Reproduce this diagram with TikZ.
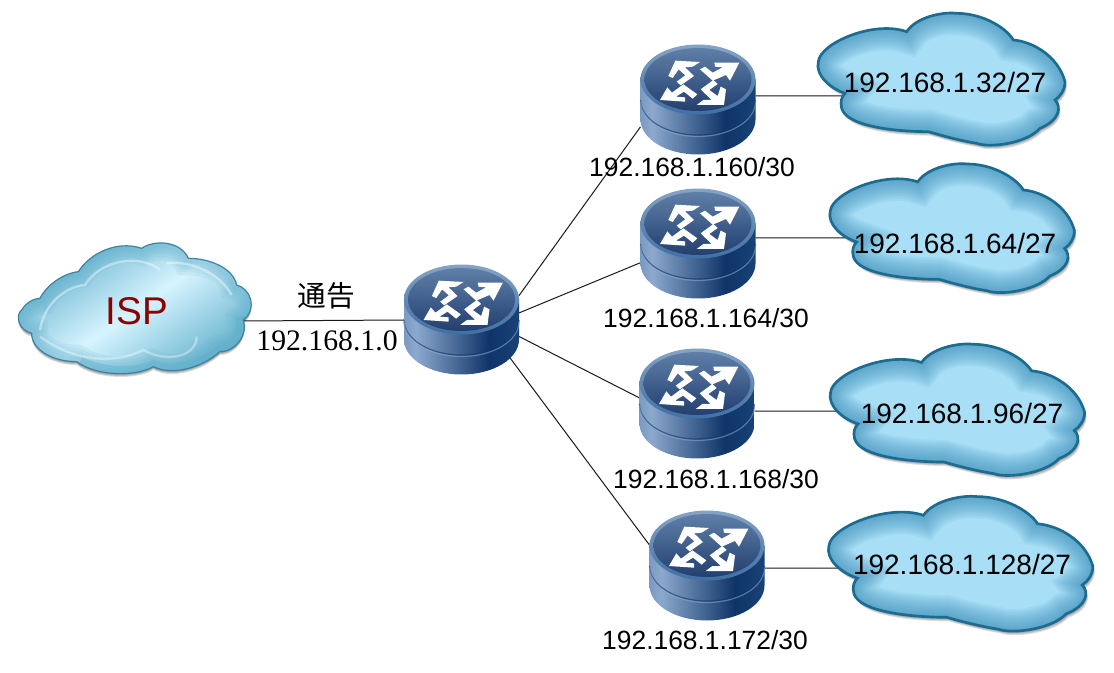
\documentclass[tikz,border=0pt]{standalone}
\usepackage{fontspec}
\setmainfont{Liberation Sans}
\newfontfamily\serifnum{Liberation Serif}
\newfontfamily\cjk{Noto Sans CJK SC}
\usetikzlibrary{calc}
\definecolor{rgbA}{HTML}{3F6898}
\definecolor{rgbB}{HTML}{8CA9CD}
\definecolor{rgbC}{HTML}{0F3468}
\definecolor{rgbD}{HTML}{1E4A80}
\definecolor{rgbE}{HTML}{4374AC}
\definecolor{discT}{HTML}{5F7FA8}
\definecolor{discM}{HTML}{2F5080}
\definecolor{discB}{HTML}{223F6E}
\definecolor{rimT}{HTML}{86A3C4}
\definecolor{rimB}{HTML}{3F6FA5}
\definecolor{linec}{HTML}{1A1A1A}
\definecolor{cloudfill}{HTML}{A8DEF6}
\definecolor{cloudglow}{HTML}{2F86B2}
\definecolor{cloudline}{HTML}{1C6C92}
\definecolor{ispred}{HTML}{8B0000}
\definecolor{ispedge}{HTML}{62B0CC}
\definecolor{ispmid}{HTML}{D6F4FE}
\pgfdeclarehorizontalshading{routerside}{100bp}{
 color(0bp)=(rgbA); color(8bp)=(rgbA); color(30bp)=(rgbB); color(62bp)=(rgbC); color(82bp)=(rgbD); color(100bp)=(rgbE)}
\tikzset{
 x=0.75pt,y=-0.75pt,
 link/.style={draw=linec,line width=0.75pt},
 hub/.style={rectangle,minimum width=86.25pt,minimum height=82.5pt,inner sep=0pt,outer sep=0pt},
 lab/.style={font=\fontsize{19.8pt}{22pt}\selectfont,text=black,inner sep=0pt},
 netlab/.style={font=\fontsize{21pt}{23pt}\selectfont,text=black,inner sep=0pt},
 seriflab/.style={font=\serifnum\fontsize{22.3pt}{24pt}\selectfont,text=black,inner sep=0pt},
}
\newcommand{\cloudshape}{
 (105,280) .. controls (60,265) and (15,225) .. (25,185)
 .. controls (30,130) and (190,60) .. (290,95)
 .. controls (320,50) and (400,35) .. (440,40)
 .. controls (520,40) and (590,85) .. (610,120)
 .. controls (670,125) and (745,170) .. (765,245)
 .. controls (765,270) and (750,290) .. (735,300)
 .. controls (755,320) and (750,360) .. (690,385)
 .. controls (650,430) and (540,445) .. (500,430)
 .. controls (440,420) and (390,405) .. (355,395)
 .. controls (260,395) and (110,380) .. (95,325)
 .. controls (90,305) and (95,290) .. (105,280) -- cycle}
\newcommand{\ispshape}{
 (65,310) .. controls (25,300) and (15,255) .. (35,240)
 .. controls (50,215) and (75,205) .. (90,205)
 .. controls (110,165) and (160,130) .. (205,125)
 .. controls (240,70) and (320,30) .. (395,55)
 .. controls (430,30) and (510,30) .. (535,85)
 .. controls (600,85) and (670,115) .. (680,165)
 .. controls (720,175) and (745,235) .. (700,270)
 .. controls (715,310) and (680,365) .. (630,365)
 .. controls (580,410) and (490,440) .. (430,410)
 .. controls (380,440) and (260,440) .. (200,395)
 .. controls (130,395) and (65,360) .. (65,310) -- cycle}
\newcommand{\drawcloud}[4]{% left, top, xscale, yscale (zoom units)
 \begin{scope}[shift={(#1,#2)},x=#3*0.25pt,y=-#4*0.25pt]
  \foreach \d in {6,9,12}
   \fill[black,opacity=.13] [shift={(\d/2,\d)}] \cloudshape;
  \fill[cloudfill] \cloudshape;
  \begin{scope}
   \clip \cloudshape;
   \foreach \w in {44,40,...,4}
    \draw[cloudglow,opacity=.075,line width=\w*0.75pt] \cloudshape;
  \end{scope}
  \draw[cloudline,line width=2pt] \cloudshape;
 \end{scope}}
\newcommand{\drawrouter}[2]{%
 \begin{scope}[shift={(#1,#2)}]
  \path[shading=routerside] (-57.5,-20.5) -- (-57.5,19.5) arc[start angle=180,end angle=0,x radius=57.5,y radius=35] -- (57.5,-20.5) -- cycle;
  \draw[draw=rgbC,line width=0.9pt,opacity=.6] (-57.5,0) arc[start angle=180,end angle=0,x radius=57.5,y radius=35];
  \draw[draw=rgbB,line width=0.9pt,opacity=.55] (-57.5,1.5) arc[start angle=180,end angle=0,x radius=57.5,y radius=35];
  \shade[top color=rimT,bottom color=rimB] (0,-20.5) ellipse[x radius=57.5,y radius=35];
  \shade[top color=discT,middle color=discM,bottom color=discB] (0,-20.5) ellipse[x radius=53.5,y radius=31.5];
  \begin{scope}[shift={(-48,-50)},x=.25pt,y=-.25pt]
   \fill[white] (76,32)--(150,36)--(128,50)--(105,52)--(132,78)--(92,106)--(80,95)--(106,76)--(86,58)--(68,84)--(55,78)--cycle;
   \fill[white] (268,38)--(240,92)--(228,75)--(188,92)--(150,58)--(165,50)--(188,68)--(218,52)--(195,50)--(193,38)--cycle;
   \fill[white] (30,150)--(52,112)--(66,128)--(100,103)--(142,133)--(128,146)--(102,125)--(78,140)--(105,142)--(105,155)--cycle;
   \fill[white] (222,165)--(140,165)--(160,150)--(185,150)--(152,118)--(190,90)--(203,102)--(178,120)--(203,138)--(212,110)--(228,118)--cycle;
  \end{scope}
 \end{scope}}
\begin{document}
\begin{tikzpicture}
\useasboundingbox (0,0) rectangle (1114,673);
\fill[white] (0,0) rectangle (1114,673);
% anchors
\node[hub] (r0) at (461.5,320) {};
\node[hub] (r1) at (698,100) {};
\node[hub] (r2) at (698,244) {};
\node[hub] (r3) at (697,404) {};
\node[hub] (r4) at (707,566) {};
\coordinate (isp) at (243,321);
\coordinate (r0d) at (490,331);
\coordinate (c1) at (846,96);
\coordinate (c2) at (845,238);
\coordinate (c3) at (845,411);
\coordinate (c4) at (845,568);
% connectors
\draw[link] (isp) -- (r0.west);
\draw[link] (r0.23.7) -- (r1.-155);
\draw[link] (r0.7) -- (r2.-162.5);
\draw[link] (r0.-16) -- (r3.174);
\draw[link] (r0d) -- (r4.160.7);
\draw[link] (r1.4) -- (c1);
\draw[link] (r2.6) -- (c2);
\draw[link] (r3.-7) -- (c3);
\draw[link] (r4.-2) -- (c4);
% ISP cloud
\begin{scope}[shift={(10,230)},x=.25pt,y=-.25pt]
 \foreach \d in {4,7,10}
  \fill[black,opacity=.14] [shift={(0,\d)}] \ispshape;
 \shade[left color=ispedge,right color=ispedge,middle color=ispmid,shading angle=35] \ispshape;
 \begin{scope}
  \clip \ispshape;
  \foreach \w in {34,28,22,16,10}
   \draw[ispedge,opacity=.13,line width=\w*0.75pt] \ispshape;
  \draw[white,opacity=.4,line width=1.8pt] (90,300) .. controls (100,230) and (160,170) .. (225,165) .. controls (270,90) and (390,70) .. (450,120);
  \draw[white,opacity=.4,line width=1.8pt] (470,100) .. controls (540,90) and (630,130) .. (665,195);
  \draw[white,opacity=.35,line width=1.8pt] (90,320) .. controls (200,400) and (320,400) .. (400,360) .. controls (470,400) and (560,380) .. (560,320);
  \draw[ispedge,opacity=.45,line width=7pt] (620,365) .. controls (680,340) and (700,300) .. (690,260);
  \draw[ispedge,opacity=.4,line width=7pt] (210,395) .. controls (290,430) and (380,430) .. (430,405) .. controls (490,430) and (580,400) .. (630,360);
 \end{scope}
 \draw[cloudline!85!white,line width=0.9pt] \ispshape;
\end{scope}
% data clouds
\drawcloud{810}{0}{1}{1}
\drawcloud{822}{151}{0.99}{0.975}
\drawcloud{822}{331}{1.03}{0.995}
\drawcloud{820}{483}{1.07}{1.02}
% routers
\drawrouter{461.5}{320}
\drawrouter{698}{100}
\drawrouter{698}{244}
\drawrouter{697}{404}
\drawrouter{707}{566}
% labels
\node[lab,text=ispred,font=\fontsize{29pt}{31pt}\selectfont] (tisp) at (137,311) {ISP};
\node[font=\cjk\fontsize{21.5pt}{24pt}\selectfont,inner sep=0pt] (tadv) at (326,296) {通告};
\node[seriflab] (tnet) at (327,341) {192.168.1.0};
\node[lab] (t1) at (692,167) {192.168.1.160/30};
\node[lab] (t2) at (706,318) {192.168.1.164/30};
\node[lab] (t3) at (716,479) {192.168.1.168/30};
\node[lab] (t4) at (705,640) {192.168.1.172/30};
\node[netlab] (n1) at (945,82) {192.168.1.32/27};
\node[netlab] (n2) at (955,243) {192.168.1.64/27};
\node[netlab] (n3) at (962,413) {192.168.1.96/27};
\node[netlab] (n4) at (962,564) {192.168.1.128/27};
\end{tikzpicture}
\end{document}
